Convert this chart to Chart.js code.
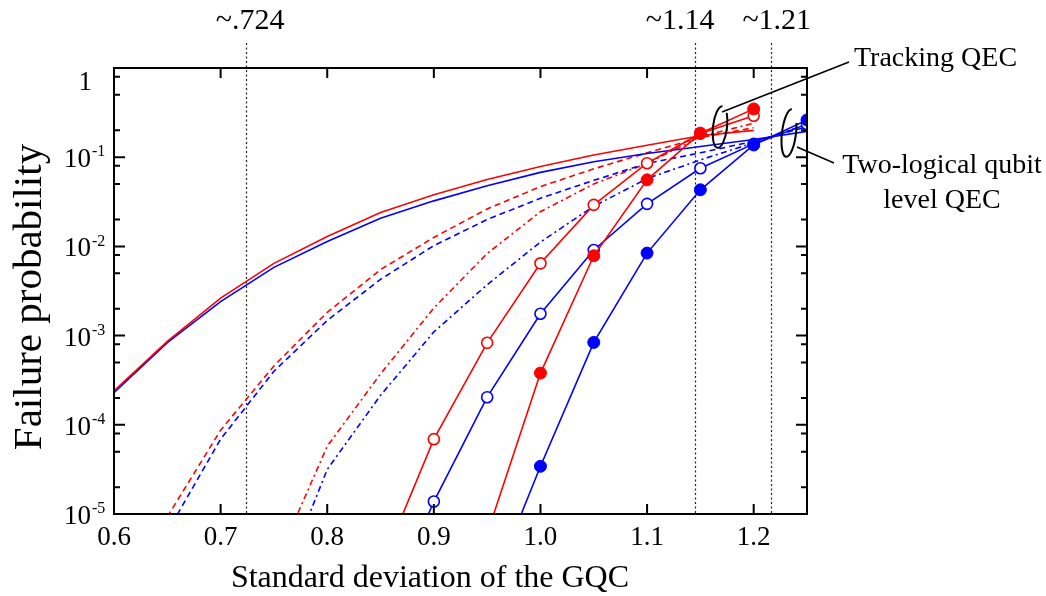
<!DOCTYPE html>
<html><head><meta charset="utf-8">
<script src="https://cdn.jsdelivr.net/npm/chart.js@4.4.1/dist/chart.umd.min.js"></script>
<style>html,body{margin:0;padding:0;background:#fff}#wrap{width:1046px;height:596px}</style>
</head><body><div id="wrap"><canvas id="c" width="1046" height="596"></canvas></div>
<script>
// ---------- data (failure probability vs. standard deviation of the GQC) ----------
const sigma = [0.60,0.65,0.70,0.75,0.80,0.85,0.90,0.95,1.00,1.05,1.10,1.15,1.20,1.25];

// Tracking QEC (red)
const redSolid   = [2.40e-4,8.61e-4,2.63e-3,6.46e-3,1.29e-2,2.40e-2,3.80e-2,5.62e-2,7.85e-2,0.106,0.136,0.174,0.200,null];
const redDash    = [null,9.3e-6,8.7e-5,4.57e-4,1.82e-3,5.50e-3,1.26e-2,2.63e-2,4.68e-2,7.41e-2,0.112,0.166,0.214,null];
const redDashDot = [null,null,null,2.5e-6,5.75e-5,3.72e-4,2.04e-3,8.32e-3,2.45e-2,5.01e-2,8.51e-2,0.170,0.240,null];
const redOpen    = [null,null,null,null,null,2.5e-6,6.9e-5,8.3e-4,6.46e-3,2.92e-2,8.57e-2,0.184,0.292,null];
const redFilled  = [null,null,null,null,null,null,null,6.0e-6,3.80e-4,7.85e-3,5.57e-2,0.186,0.348,null];

// Two-logical qubit level QEC (blue)
const blueSolid   = [2.29e-4,8.32e-4,2.40e-3,5.82e-3,1.135e-2,2.07e-2,3.24e-2,4.79e-2,6.76e-2,8.91e-2,0.110,0.132,0.158,0.195];
const blueDash    = [null,6.3e-6,6.9e-5,3.98e-4,1.48e-3,4.27e-3,1.02e-2,2.00e-2,3.47e-2,5.50e-2,8.51e-2,0.112,0.151,0.219];
const blueDashDot = [null,null,null,1.0e-6,3.16e-5,2.14e-4,1.10e-3,3.72e-3,1.12e-2,2.82e-2,5.75e-2,9.33e-2,0.145,0.234];
const blueOpen    = [null,null,null,null,null,5.5e-7,1.38e-5,2.04e-4,1.76e-3,9.12e-3,3.00e-2,7.52e-2,0.141,0.234];
const blueFilled  = [null,null,null,null,null,null,null,1.12e-6,3.43e-5,8.39e-4,8.41e-3,4.31e-2,0.137,0.262];

// axes / annotations
const xTickValues = [0.6,0.7,0.8,0.9,1.0,1.1,1.2];
const yMajorValues = [1e-5,1e-4,1e-3,1e-2,1e-1,1];
const yMinorFactors = [2,5,8];
const thresholdValues = [0.724,1.145,1.216];
const thresholdLabels = ['~.724','~1.14','~1.21'];
const xTitle = 'Standard deviation of the GQC';
const yTitle = 'Failure probability';
const noteTracking = ['Tracking QEC'];
const noteTwoLogical = ['Two-logical qubit','level QEC'];

// ---------- helpers ----------
const RED = '#ff0000', BLUE = '#0000ff';
const FONT = '"Liberation Serif", "Times New Roman", serif';
const YMIN = 1e-5;
function pts(arr){ return sigma.map((x,i)=>({x:x,y:arr[i]})).filter(p=>p.y!=null); }
function rad(r){ return c => (c.raw && c.raw.y >= YMIN ? r : 0); }
function ds(data,color,opt){
  return Object.assign({data:pts(data),borderColor:color,backgroundColor:color,borderWidth:1.6,
    pointRadius:0,pointHoverRadius:0,tension:0,fill:false,spanGaps:true},opt||{});
}

const datasets = [
  ds(redFilled,RED,{pointRadius:rad(6),pointBackgroundColor:RED,pointBorderColor:RED,pointBorderWidth:1}),
  ds(blueFilled,BLUE,{pointRadius:rad(6),pointBackgroundColor:BLUE,pointBorderColor:BLUE,pointBorderWidth:1}),
  ds(redOpen,RED,{pointRadius:rad(5.5),pointBackgroundColor:'#fff',pointBorderColor:RED,pointBorderWidth:1.6}),
  ds(blueOpen,BLUE,{pointRadius:rad(5.5),pointBackgroundColor:'#fff',pointBorderColor:BLUE,pointBorderWidth:1.6}),
  ds(redSolid,RED),
  ds(blueSolid,BLUE),
  ds(redDash,RED,{borderDash:[6,4]}),
  ds(blueDash,BLUE,{borderDash:[6,4]}),
  ds(redDashDot,RED,{borderDash:[6,3.5,2,3.5]}),
  ds(blueDashDot,BLUE,{borderDash:[6,3.5,2,3.5]})
];

const decor = {
  id:'decor',
  beforeDatasetsDraw(chart){
    const {ctx, chartArea:a, scales:{x}} = chart;
    ctx.save();
    ctx.strokeStyle = '#222'; ctx.lineWidth = 1.2; ctx.setLineDash([2,2.5]);
    thresholdValues.forEach(v=>{
      const px = Math.round(x.getPixelForValue(v)) + 0.5;
      ctx.beginPath(); ctx.moveTo(px,43); ctx.lineTo(px,a.bottom); ctx.stroke();
    });
    ctx.restore();
  },
  afterDatasetsDraw(chart){
    const {ctx, chartArea:a, scales:{x,y}} = chart;
    ctx.save();
    ctx.strokeStyle = '#000'; ctx.fillStyle = '#000'; ctx.setLineDash([]);
    // frame
    ctx.lineWidth = 2;
    ctx.strokeRect(a.left, a.top, a.right - a.left, a.bottom - a.top);
    // x ticks (inward, top and bottom)
    x.ticks.forEach(t=>{
      const px = x.getPixelForValue(t.value);
      if (px <= a.left + 1) return;
      ctx.beginPath();
      ctx.moveTo(px,a.bottom); ctx.lineTo(px,a.bottom-10);
      ctx.moveTo(px,a.top); ctx.lineTo(px,a.top+10);
      ctx.stroke();
    });
    // y ticks (inward, left and right)
    y.ticks.forEach(t=>{
      const py = y.getPixelForValue(t.value);
      const L = t.major ? 11 : 6;
      ctx.beginPath();
      ctx.moveTo(a.left,py); ctx.lineTo(a.left+L,py);
      ctx.moveTo(a.right,py); ctx.lineTo(a.right-L,py);
      ctx.stroke();
    });
    // y tick labels 10^n
    ctx.textBaseline = 'middle';
    y.ticks.filter(t=>t.major).forEach(t=>{
      const py = y.getPixelForValue(t.value);
      const e = Math.round(Math.log10(t.value));
      if (e === 0) {
        ctx.font = '27px ' + FONT; ctx.textAlign = 'right';
        ctx.fillText('1', 92, Math.max(py, a.top + 15));
      } else {
        ctx.font = '27px ' + FONT; ctx.textAlign = 'right';
        ctx.fillText('10', 91, py + 3);
        ctx.font = '16px ' + FONT; ctx.textAlign = 'left';
        ctx.fillText(String(e), 92, py - 5);
      }
    });
    // axis titles
    ctx.font = '32px ' + FONT; ctx.textAlign = 'center'; ctx.textBaseline = 'alphabetic';
    ctx.fillText(xTitle, 430, 587);
    ctx.save();
    ctx.translate(41, 297); ctx.rotate(-Math.PI/2);
    ctx.font = '41px ' + FONT; ctx.textAlign = 'center'; ctx.textBaseline = 'alphabetic';
    ctx.fillText(yTitle, 0, 0);
    ctx.restore();
    // threshold labels on top
    const shift = [4,-15,6];
    ctx.font = '30px ' + FONT; ctx.textAlign = 'center'; ctx.textBaseline = 'alphabetic';
    thresholdValues.forEach((v,i)=>{
      ctx.fillText(thresholdLabels[i], x.getPixelForValue(v) + shift[i], 29);
    });
    // annotations
    ctx.font = '28px ' + FONT; ctx.textAlign = 'left';
    ctx.fillText(noteTracking[0], 854, 66);
    ctx.textAlign = 'center';
    ctx.fillText(noteTwoLogical[0], 942, 173);
    ctx.fillText(noteTwoLogical[1], 942, 208);
    ctx.lineWidth = 1.5;
    ctx.beginPath(); ctx.moveTo(849,62); ctx.lineTo(722,112); ctx.stroke();
    ctx.beginPath(); ctx.moveTo(834,163); ctx.lineTo(797,147); ctx.stroke();
    ctx.lineWidth = 2;
    ctx.beginPath(); ctx.ellipse(720,127,7,21,0.12,1.5*Math.PI,-0.25*Math.PI,true); ctx.stroke();
    ctx.beginPath(); ctx.ellipse(789,133,7,24,0.12,1.5*Math.PI,-0.15*Math.PI,true); ctx.stroke();
    ctx.restore();
  }
};

new Chart(document.getElementById('c'), {
  type:'line',
  data:{datasets:datasets},
  plugins:[decor],
  options:{
    responsive:false, animation:false, devicePixelRatio:1,
    layout:{padding:{left:0,right:239,top:68,bottom:0}},
    plugins:{legend:{display:false}, tooltip:{enabled:false}},
    events:[],
    scales:{
      x:{type:'linear', min:0.6, max:1.25,
        afterBuildTicks:s=>{ s.ticks = xTickValues.map(v=>({value:v})); },
        afterFit:s=>{ s.height = 82; },
        grid:{display:false, drawTicks:false}, border:{display:false},
        ticks:{color:'#000', font:{family:FONT, size:27}, padding:8, maxRotation:0, autoSkip:false,
          callback:v=>Number(v).toFixed(1)}
      },
      y:{type:'logarithmic', min:1e-5, max:1,
        afterBuildTicks:s=>{
          const t = [];
          yMajorValues.forEach((v,i)=>{
            t.push({value:v, major:true});
            if (i < yMajorValues.length-1) yMinorFactors.forEach(f=>t.push({value:v*f, major:false}));
          });
          s.ticks = t;
        },
        afterFit:s=>{ s.width = 114; },
        grid:{display:false, drawTicks:false}, border:{display:false},
        ticks:{display:false}
      }
    }
  }
});
</script>
</body></html>
